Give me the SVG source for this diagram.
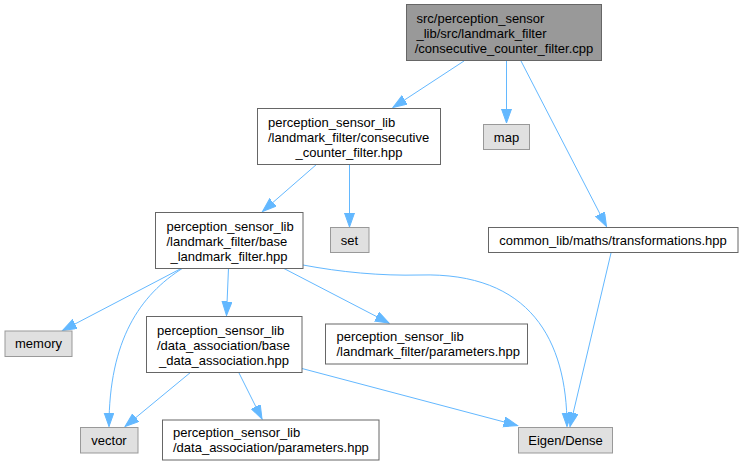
<svg xmlns="http://www.w3.org/2000/svg" width="744" height="466" viewBox="0 0 744 466">
<style>
  .nd rect { fill: #ffffff; stroke: #666666; stroke-width: 1; }
  .nd.sys rect { fill: #e0e0e0; stroke: #999999; }
  .nd.main rect { fill: #999999; stroke: #666666; }
  text { font-family: "Liberation Sans", Arial, Helvetica, sans-serif; font-size: 13px; fill: #000000; }
  .c { text-anchor: middle; }
  .edges path { fill: none; stroke: #63b8ff; stroke-width: 1; marker-end: url(#ah); }
</style>
<defs>
  <marker id="ah" markerUnits="userSpaceOnUse" markerWidth="15" markerHeight="11" refX="14" refY="5" orient="auto">
    <path d="M0,0 L14,5 L0,10 z" fill="#63b8ff" stroke="#63b8ff" stroke-width="1"/>
  </marker>
</defs>
<rect width="744" height="466" fill="#ffffff"/>
<g class="edges" id="edges">
  <path d="M464,61 L393,107.5"/>
  <path d="M506.5,61 L506.5,123"/>
  <path d="M521,61 L606.5,226.5"/>
  <path d="M317,164 L262.5,211.5"/>
  <path d="M349.5,164 L349.5,227"/>
  <path d="M182,268 L62.5,330.5"/>
  <path d="M183,268 C140,295 109,340 109,426.5"/>
  <path d="M228.5,268 L226.5,315.5"/>
  <path d="M283,268 L389,323"/>
  <path d="M303,265 C340,272 380,276 420,275 C530,272 567,340 567,426.5"/>
  <path d="M191,372 L125,426.5"/>
  <path d="M238.5,372 L262,419"/>
  <path d="M302,368.5 L517.5,425.5"/>
  <path d="M611,253 L570,426.5"/>
</g>
<g class="nd main" id="n0">
  <rect x="406.5" y="4.5" width="195" height="56"/>
  <text x="416.5" y="23">src/perception_sensor</text>
  <text x="416.5" y="38">_lib/src/landmark_filter</text>
  <text x="504" y="53" class="c">/consecutive_counter_filter.cpp</text>
</g>
<g class="nd" id="n1">
  <rect x="257.5" y="108.5" width="183" height="56"/>
  <text x="268" y="127">perception_sensor_lib</text>
  <text x="268" y="142">/landmark_filter/consecutive</text>
  <text x="349" y="157" class="c">_counter_filter.hpp</text>
</g>
<g class="nd sys" id="n2">
  <rect x="483.5" y="124.5" width="46" height="25"/>
  <text x="506.5" y="141.5" class="c">map</text>
</g>
<g class="nd" id="n3">
  <rect x="488.5" y="227.5" width="249.5" height="25"/>
  <text x="613" y="244.5" class="c">common_lib/maths/transformations.hpp</text>
</g>
<g class="nd" id="n4">
  <rect x="155.5" y="212.5" width="147.5" height="56"/>
  <text x="166.5" y="231">perception_sensor_lib</text>
  <text x="166.5" y="246">/landmark_filter/base</text>
  <text x="229" y="261" class="c">_landmark_filter.hpp</text>
</g>
<g class="nd sys" id="n5">
  <rect x="330.5" y="227.5" width="38.5" height="25"/>
  <text x="349.5" y="244.5" class="c">set</text>
</g>
<g class="nd sys" id="n6">
  <rect x="5" y="331" width="67" height="25.5"/>
  <text x="38.5" y="348" class="c">memory</text>
</g>
<g class="nd" id="n7">
  <rect x="146.5" y="316.5" width="155.5" height="56"/>
  <text x="157" y="335">perception_sensor_lib</text>
  <text x="157" y="350">/data_association/base</text>
  <text x="224" y="365" class="c">_data_association.hpp</text>
</g>
<g class="nd" id="n8">
  <rect x="325.5" y="324" width="202" height="40"/>
  <text x="336.5" y="341">perception_sensor_lib</text>
  <text x="336.5" y="356">/landmark_filter/parameters.hpp</text>
</g>
<g class="nd sys" id="n9">
  <rect x="80.5" y="427.5" width="57.5" height="25.5"/>
  <text x="109" y="444.5" class="c">vector</text>
</g>
<g class="nd" id="n10">
  <rect x="162.5" y="420" width="216.5" height="40"/>
  <text x="173" y="437">perception_sensor_lib</text>
  <text x="173" y="452">/data_association/parameters.hpp</text>
</g>
<g class="nd sys" id="n11">
  <rect x="518.5" y="427.5" width="94" height="25.5"/>
  <text x="565.5" y="444.5" class="c">Eigen/Dense</text>
</g>
</svg>
